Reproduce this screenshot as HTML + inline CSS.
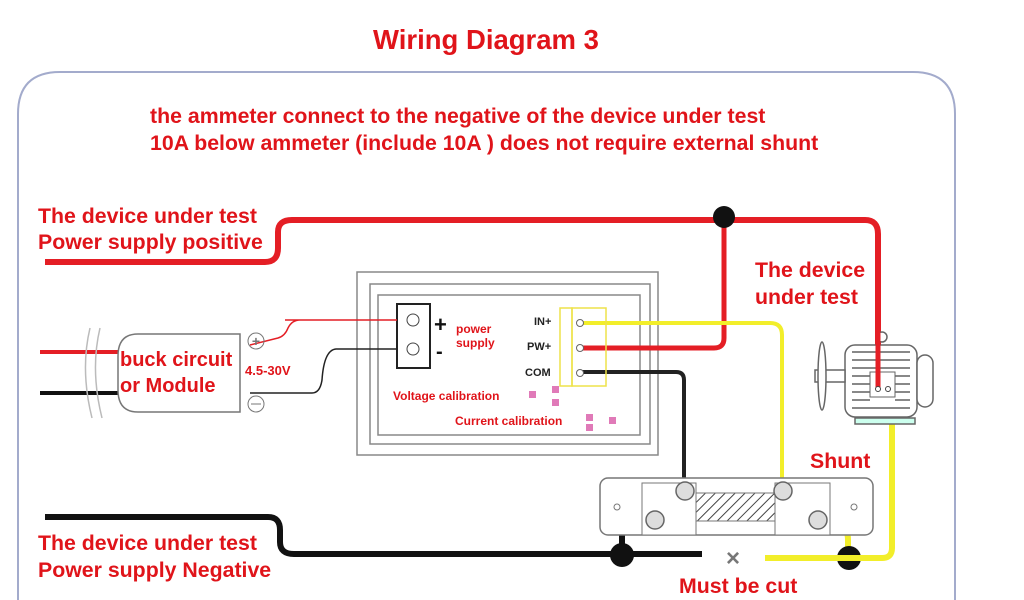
<!DOCTYPE html>
<html><head><meta charset="utf-8"><style>
html,body{margin:0;background:#fff;width:1024px;height:600px;overflow:hidden}
svg{display:block}
text{font-family:"Liberation Sans",sans-serif;font-weight:bold}
</style></head><body>
<svg width="1024" height="600" viewBox="0 0 1024 600" xmlns="http://www.w3.org/2000/svg">
<defs>
<pattern id="h" width="7" height="7" patternUnits="userSpaceOnUse" patternTransform="rotate(45)">
<line x1="0" y1="0" x2="0" y2="7" stroke="#444" stroke-width="2"/></pattern>
</defs>
<path d="M18 600 V114 Q18 72 60 72 H913 Q955 72 955 114 V600" fill="none" stroke="#a3abcc" stroke-width="2"/>
<text x="486" y="49" font-size="27.5" fill="#e0141a" text-anchor="middle">Wiring Diagram 3</text>
<text x="150" y="123" font-size="21.3" fill="#e0141a">the ammeter connect to the negative of the device under test</text>
<text x="150" y="150" font-size="21.3" fill="#e0141a">10A below ammeter (include 10A ) does not require external shunt</text>
<text x="38" y="223" font-size="21.3" fill="#e0141a">The device under test</text>
<text x="38" y="249" font-size="21.3" fill="#e0141a">Power supply positive</text>
<text x="755" y="277" font-size="21.3" fill="#e0141a">The device</text>
<text x="755" y="304" font-size="21.3" fill="#e0141a">under test</text>
<text x="38" y="550" font-size="21.3" fill="#e0141a">The device under test</text>
<text x="38" y="577" font-size="21.3" fill="#e0141a">Power supply Negative</text>
<text x="810" y="468" font-size="21.3" fill="#e0141a">Shunt</text>
<text x="679" y="593" font-size="21.3" fill="#e0141a">Must be cut</text>
<!-- meter -->
<rect x="357" y="272" width="301" height="183" fill="#fff" stroke="#888" stroke-width="1.5"/>
<rect x="370" y="284" width="280" height="160" fill="none" stroke="#888" stroke-width="1.5"/>
<rect x="378" y="295" width="262" height="140" fill="none" stroke="#888" stroke-width="1.5"/>
<rect x="397" y="304" width="33" height="64" fill="#fff" stroke="#222" stroke-width="2"/>
<circle cx="413" cy="320" r="6" fill="none" stroke="#444"/>
<circle cx="413" cy="349" r="6" fill="none" stroke="#444"/>
<text x="434" y="332" font-size="22" fill="#111">+</text>
<text x="436" y="358" font-size="20" fill="#111">-</text>
<text x="456" y="333" font-size="12" fill="#e0141a">power</text>
<text x="456" y="347" font-size="12" fill="#e0141a">supply</text>
<text x="534" y="325" font-size="11" fill="#222">IN+</text>
<text x="527" y="350" font-size="11" fill="#222">PW+</text>
<text x="525" y="376" font-size="11" fill="#222">COM</text>
<text x="393" y="400" font-size="12" fill="#e0141a">Voltage calibration</text>
<text x="455" y="425" font-size="12" fill="#e0141a">Current calibration</text>
<rect x="529" y="391" width="7" height="7" fill="#e07ab8"/>
<rect x="552" y="386" width="7" height="7" fill="#e07ab8"/>
<rect x="552" y="399" width="7" height="7" fill="#e07ab8"/>
<rect x="586" y="414" width="7" height="7" fill="#e07ab8"/>
<rect x="586" y="424" width="7" height="7" fill="#e07ab8"/>
<rect x="609" y="417" width="7" height="7" fill="#e07ab8"/>
<path d="M285 320 H397 M250 345 Q270 340 278 338 Q285 336 288 328 Q292 320 300 320" fill="none" stroke="#e41e25" stroke-width="1.5"/>
<path d="M250 393 H312 Q320 393 322 380 Q324 350 336 349 H397" fill="none" stroke="#222" stroke-width="1.5"/>
<!-- red positive -->
<path d="M45 262 H265 Q278 262 278 248 V232 Q278 220 292 220 H865 Q878 220 878 234 V390" fill="none" stroke="#e41e25" stroke-width="6"/>
<path d="M724 217 V338 Q724 348 714 348 H580" fill="none" stroke="#e41e25" stroke-width="5"/>
<circle cx="724" cy="217" r="11" fill="#111"/>
<!-- black negative -->
<path d="M45 517 H268 Q280 517 280 530 V542 Q280 554 294 554 H702" fill="none" stroke="#111" stroke-width="6"/>
<path d="M622 554 V530 Q622 518 636 518 H655" fill="none" stroke="#111" stroke-width="6"/>
<circle cx="622" cy="555" r="12" fill="#111"/>
<!-- yellow -->
<path d="M765 558 H882 Q892 558 892 548 V392" fill="none" stroke="#f2ee2a" stroke-width="6"/>
<path d="M820 520 Q848 518 848 540 V558" fill="none" stroke="#f2ee2a" stroke-width="6"/>
<circle cx="849" cy="558" r="12" fill="#111"/>
<rect x="837" y="555" width="24" height="6" fill="#f2ee2a"/>
<path d="M580 323 H770 Q782 323 782 335 V488" fill="none" stroke="#f2ee2a" stroke-width="4"/>
<path d="M580 372 H676 Q684 372 684 380 V488" fill="none" stroke="#222" stroke-width="4"/>
<rect x="560" y="308" width="12" height="78" fill="none" stroke="#eee24a" stroke-width="1.5"/>
<rect x="572" y="308" width="34" height="78" fill="none" stroke="#eee24a" stroke-width="1.5"/>
<circle cx="580" cy="323" r="3.5" fill="#fff" stroke="#666"/>
<circle cx="580" cy="348" r="3.5" fill="#fff" stroke="#666"/>
<circle cx="580" cy="373" r="3.5" fill="#fff" stroke="#666"/>
<text x="733" y="566" font-size="24" fill="#777" font-weight="normal" text-anchor="middle">×</text>
<!-- buck -->
<path d="M40 352 H120" stroke="#e41e25" stroke-width="4"/>
<path d="M40 393 H120" stroke="#111" stroke-width="4"/>
<path d="M90 328 Q80 370 92 418 M100 328 Q90 370 102 418" fill="none" stroke="#bbb" stroke-width="1.5"/>
<path d="M138 334 H240 V412 H138 Q118 412 118 390 V356 Q118 334 138 334 Z" fill="#fff" stroke="#777" stroke-width="1.5"/>
<text x="120" y="366" font-size="20" fill="#e0141a">buck circuit</text>
<text x="120" y="392" font-size="20" fill="#e0141a">or Module</text>
<text x="245" y="375" font-size="13" fill="#e0141a">4.5-30V</text>
<circle cx="256" cy="341" r="8" fill="none" stroke="#777"/><text x="256" y="346" font-size="14" fill="#777" text-anchor="middle" font-weight="normal">+</text>
<circle cx="256" cy="404" r="8" fill="none" stroke="#777"/><line x1="251" y1="404" x2="261" y2="404" stroke="#777"/>
<!-- shunt -->
<rect x="600" y="478" width="273" height="57" rx="8" fill="#fff" stroke="#777" stroke-width="1.5"/>
<rect x="642" y="483" width="54" height="52" fill="#fff" stroke="#777"/>
<rect x="775" y="483" width="55" height="52" fill="#fff" stroke="#777"/>
<rect x="696" y="493" width="79" height="28" fill="url(#h)" stroke="#777"/>
<circle cx="617" cy="507" r="3" fill="none" stroke="#777"/>
<circle cx="854" cy="507" r="3" fill="none" stroke="#777"/>
<g fill="#ddd" stroke="#666" stroke-width="1.5">
<circle cx="685" cy="491" r="9"/><circle cx="783" cy="491" r="9"/>
<circle cx="655" cy="520" r="9"/><circle cx="818" cy="520" r="9"/></g>
<!-- motor -->
<g stroke="#666" stroke-width="1.5" fill="#fff">
<rect x="845" y="345" width="72" height="72" rx="10"/>
<rect x="917" y="355" width="16" height="52" rx="8"/>
<rect x="815" y="370" width="30" height="12"/>
<ellipse cx="822" cy="376" rx="4" ry="34"/>
<rect x="855" y="418" width="60" height="6" fill="#cfe"/>
<circle cx="882" cy="337" r="5"/>
</g>
<g stroke="#888" stroke-width="2">
<line x1="852" y1="352" x2="910" y2="352"/><line x1="852" y1="360" x2="910" y2="360"/>
<line x1="852" y1="368" x2="910" y2="368"/><line x1="852" y1="376" x2="870" y2="376"/>
<line x1="852" y1="384" x2="870" y2="384"/><line x1="852" y1="392" x2="870" y2="392"/>
<line x1="852" y1="400" x2="870" y2="400"/><line x1="852" y1="408" x2="910" y2="408"/>
<line x1="895" y1="376" x2="910" y2="376"/><line x1="895" y1="384" x2="910" y2="384"/>
<line x1="895" y1="392" x2="910" y2="392"/><line x1="895" y1="400" x2="910" y2="400"/>
</g>
<rect x="870" y="372" width="25" height="25" fill="#fff" stroke="#666"/>
<path d="M878 332 V388" stroke="#e41e25" stroke-width="5"/>
<circle cx="878" cy="389" r="2.5" fill="#fff" stroke="#444"/>
<circle cx="888" cy="389" r="2.5" fill="#fff" stroke="#444"/>
</svg>
</body></html>
